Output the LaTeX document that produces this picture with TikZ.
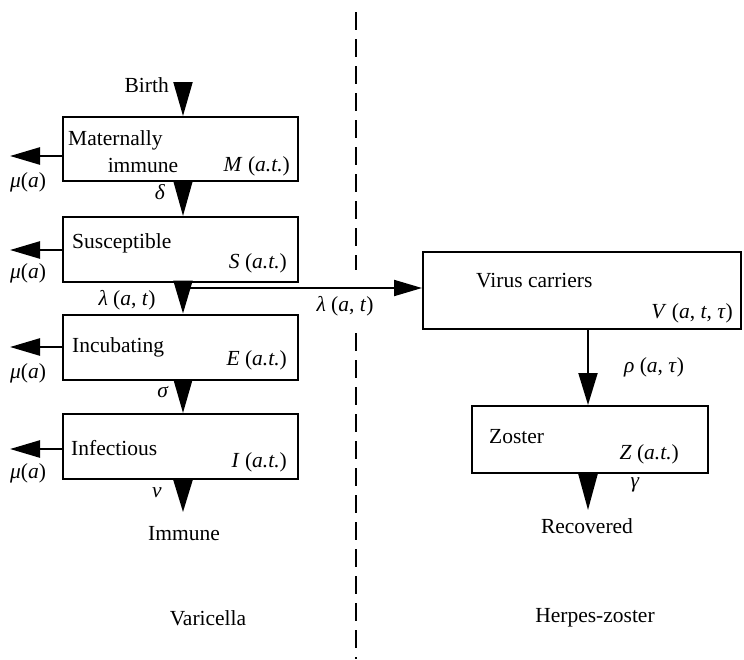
\documentclass[tikz,border=0pt]{standalone}
\usepackage{fontspec}
\setmainfont{Liberation Serif}
\usetikzlibrary{arrows.meta}
\begin{document}
\begin{tikzpicture}[x=1pt,y=-1pt,
  box/.style={draw,line width=2pt,rectangle,inner sep=0pt},
  lbl/.style={inner sep=0pt,font=\fontsize{21.5}{25}\selectfont},
  tri/.style={line width=2pt,-{Triangle[length=#1,width=19pt]}},
  tri/.default=30pt,
  hout/.style={line width=2.5pt,-{Triangle[length=30pt,width=17pt]}},
  harr/.style={line width=2pt,-{Triangle[length=28pt,width=16pt]}},
  divider/.style={line width=1.8pt,dash pattern=on 18pt off 9pt}]
\useasboundingbox (0,0) rectangle (744,659);
% boxes
\node[box,minimum width=235pt,minimum height=64pt] (M) at (180.5,149) {};
\node[box,minimum width=235pt,minimum height=65pt] (S) at (180.5,249.5) {};
\node[box,minimum width=235pt,minimum height=65pt] (E) at (180.5,347) {};
\node[box,minimum width=235pt,minimum height=65pt] (I) at (180.5,446.5) {};
\node[box,minimum width=318pt,minimum height=77pt] (V) at (582,290.5) {};
\node[box,minimum width=236pt,minimum height=67pt] (Z) at (590,439.5) {};
% coordinates
\coordinate (ax) at (183,0);
\coordinate (birthtop) at (183,83);
\coordinate (immtip) at (183,512);
\coordinate (branch) at (183,288);
\coordinate (vx) at (588,0);
\coordinate (rectip) at (588,510);
\coordinate (mout) at (10,0);
\coordinate (d1) at (356,12);
\coordinate (d1b) at (356,270);
\coordinate (d2a) at (356,333);
\coordinate (d2) at (356,659);
% divider
\draw[divider] (d1) -- (d1b);
\draw[divider] (d2a) -- (d2);
% vertical arrows
\draw[tri=34pt] (birthtop) -- (ax |- M.north);
\draw[tri=35pt] (ax |- M.south) -- (ax |- S.north);
\draw[tri=33pt] (ax |- S.south) -- (ax |- E.north);
\draw[tri=34pt] (ax |- E.south) -- (ax |- I.north);
\draw[tri=32pt] (ax |- I.south) -- (immtip);
\draw[harr] (branch) -- (branch -| V.west);
\draw[tri=32pt] (vx |- V.south) -- (vx |- Z.north);
\draw[tri=36pt] (vx |- Z.south) -- (rectip);
% mortality arrows
\draw[hout] (M.west |- 0,156) -- (mout |- 0,156);
\draw[hout] (S.west |- 0,250) -- (mout |- 0,250);
\draw[hout] (E.west |- 0,347) -- (mout |- 0,347);
\draw[hout] (I.west |- 0,449) -- (mout |- 0,449);
% labels
\node[lbl,anchor=base east] (tbirth) at (169,92) {Birth};
\node[lbl,anchor=base west] (tmat) at (68,145) {Maternally};
\node[lbl,anchor=base] (timm) at (143,172) {immune};
\node[lbl,anchor=base east] (tM) at (290,171) {\textit{M} (\textit{a.t.})};
\node[lbl,anchor=base] (tdelta) at (160,199) {\textit{δ}};
\node[lbl,anchor=base west] (tsus) at (72,248) {Susceptible};
\node[lbl,anchor=base east] (tS) at (287,268) {\textit{S} (\textit{a.t.})};
\node[lbl,anchor=base] (tlam1) at (127,305) {\textit{λ} (\textit{a}, \textit{t})};
\node[lbl,anchor=base] (tlam2) at (345,311) {\textit{λ} (\textit{a}, \textit{t})};
\node[lbl,anchor=base west] (tinc) at (72,352) {Incubating};
\node[lbl,anchor=base east] (tE) at (287,365) {\textit{E} (\textit{a.t.})};
\node[lbl,anchor=base] (tsigma) at (163,397) {\textit{σ}};
\node[lbl,anchor=base west] (tinf) at (71,455) {Infectious};
\node[lbl,anchor=base east] (tI) at (287,467) {\textit{I} (\textit{a.t.})};
\node[lbl,anchor=base] (tnu) at (157,497) {\textit{ν}};
\node[lbl,anchor=base] (timmune) at (184,540) {Immune};
\node[lbl,anchor=base] (tvar) at (208,625) {Varicella};
\node[lbl,anchor=base] (mu1) at (28,187) {\textit{μ}(\textit{a})};
\node[lbl,anchor=base] (mu2) at (28,278) {\textit{μ}(\textit{a})};
\node[lbl,anchor=base] (mu3) at (28,378) {\textit{μ}(\textit{a})};
\node[lbl,anchor=base] (mu4) at (28,478) {\textit{μ}(\textit{a})};
\node[lbl,anchor=base west] (tvir) at (476,287) {Virus carriers};
\node[lbl,anchor=base east] (tV) at (733,318) {\textit{V} (\textit{a}, \textit{t}, \textit{τ})};
\node[lbl,anchor=base] (trho) at (654,372) {\textit{ρ} (\textit{a}, \textit{τ})};
\node[lbl,anchor=base west] (tzos) at (489,443) {Zoster};
\node[lbl,anchor=base east] (tZ) at (679,459) {\textit{Z} (\textit{a.t.})};
\node[lbl,anchor=base] (tgamma) at (635,487) {\textit{γ}};
\node[lbl,anchor=base] (trec) at (587,533) {Recovered};
\node[lbl,anchor=base] (therp) at (595,622) {Herpes-zoster};
\end{tikzpicture}
\end{document}
